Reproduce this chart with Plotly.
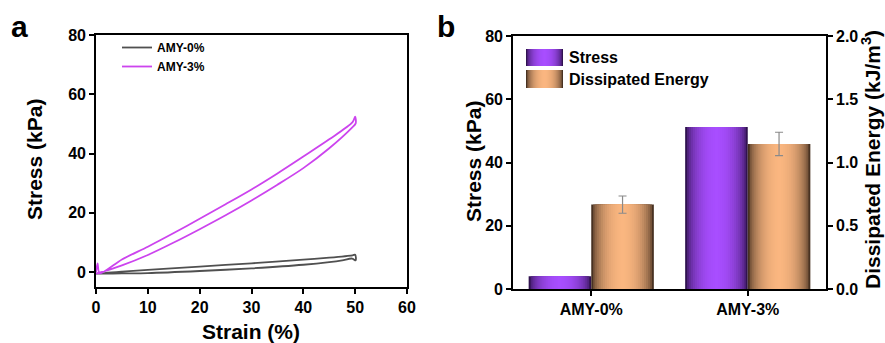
import plotly.graph_objects as go

W, H = 885, 343

# ---------------- Data ----------------
# Panel a: loading-unloading cycles (strain %, stress kPa)
strain_amy0 = [0, 5, 10, 20, 30, 40, 45, 49.5, 50, 50.1, 49.4, 47.5, 45, 40, 30, 20, 10, 5, 1, 0]
stress_amy0 = [-0.5, 0.2, 0.8, 1.9, 3.0, 4.2, 4.9, 5.7, 5.9, 4.0, 4.6, 4.0, 3.4, 2.5, 1.3, 0.4, -0.3, -0.4, -0.5, -0.5]

strain_amy3 = [0, 0.3, 0.7, 5, 10, 15, 20, 25, 30, 35, 40, 45, 49.5, 50, 50.1, 49.3, 45, 40, 35, 30, 25, 20, 15, 10, 5, 1, 0]
stress_amy3 = [0, 3.0, -0.4, 4.3, 8.6, 13.2, 18.0, 22.9, 27.9, 33.3, 39.0, 44.8, 50.6, 52.5, 50.2, 48.6, 41.8, 35.1, 29.5, 24.2, 19.2, 14.5, 10.0, 5.8, 2.3, 0.0, -0.5]

# Panel b: bar chart
categories = ["AMY-0%", "AMY-3%"]
stress_vals = [4.0, 51.2]          # kPa
energy_vals = [0.667, 1.147]       # kJ/m^3
energy_err = [0.068, 0.092]

# --------------- Styling helpers ---------------
FONT = "Liberation Sans, Arial, sans-serif"
N_LAYERS = 16
BAR_W = 0.4

def mix(c1, c2, f):
    return "rgb(%d,%d,%d)" % tuple(round(a + (b - a) * f) for a, b in zip(c1, c2))

PURPLE_DARK, PURPLE_LIGHT = (48, 18, 80), (168, 78, 255)
ORANGE_DARK, ORANGE_LIGHT = (72, 50, 34), (250, 182, 128)

def shade(k):
    t = 1 - k / N_LAYERS
    return max(0.0, 1 - t * t) ** 0.6

fig = go.Figure()

# Panel a lines
fig.add_trace(go.Scatter(x=strain_amy0, y=stress_amy0, mode="lines", name="AMY-0%",
                         line=dict(color="#505050", width=1.8, shape="spline", smoothing=0.8),
                         xaxis="x", yaxis="y", legend="legend"))
fig.add_trace(go.Scatter(x=strain_amy3, y=stress_amy3, mode="lines", name="AMY-3%",
                         line=dict(color="#CC44EE", width=1.8, shape="spline", smoothing=0.8),
                         xaxis="x", yaxis="y", legend="legend"))

# Panel b bars with cylinder-like gradient built from nested bar layers
for k in range(N_LAYERS):
    f = 1 - k / N_LAYERS
    w = BAR_W * f
    s = shade(k)
    last = k == N_LAYERS - 1
    fig.add_trace(go.Bar(x=categories, y=stress_vals, width=w, offset=-BAR_W + (BAR_W - w) / 2,
                         marker=dict(color=mix(PURPLE_DARK, PURPLE_LIGHT, s), line=dict(width=0)),
                         xaxis="x2", yaxis="y3", showlegend=False, name="Stress"))
    fig.add_trace(go.Bar(x=categories, y=energy_vals, width=w, offset=(BAR_W - w) / 2,
                         marker=dict(color=mix(ORANGE_DARK, ORANGE_LIGHT, s), line=dict(width=0)),
                         error_y=dict(type="data", array=energy_err, visible=last,
                                      color="#8a8a8a", thickness=1.2, width=4),
                         xaxis="x2", yaxis="y4", showlegend=False, name="Dissipated Energy"))

tickfont = dict(family=FONT, size=16, color="black", weight="bold")
axis_common = dict(showline=True, linecolor="black", linewidth=1.6, ticks="outside",
                   ticklen=5, tickwidth=1.6, tickcolor="black", showgrid=False,
                   zeroline=False, tickfont=tickfont, automargin=False)

fig.update_layout(
    width=W, height=H, margin=dict(l=0, r=0, t=0, b=0, autoexpand=False),
    paper_bgcolor="white", plot_bgcolor="white",
    barmode="overlay", showlegend=True,
    xaxis=dict(domain=[96 / W, 407 / W], range=[0, 60], dtick=10, mirror=True,
               anchor="y", **axis_common),
    yaxis=dict(domain=[1 - 287 / H, 1 - 35 / H], range=[-5, 80], tickvals=[0, 20, 40, 60, 80],
               mirror=True, anchor="x", **axis_common),
    xaxis2=dict(domain=[513 / W, 826 / W], range=[-0.5, 1.5], type="category", mirror=True,
                anchor="y3", **axis_common),
    yaxis3=dict(domain=[1 - 289 / H, 1 - 36 / H], range=[0, 80], tickvals=[0, 20, 40, 60, 80],
                anchor="x2", **axis_common),
    yaxis4=dict(range=[0, 2], tickvals=[0, 0.5, 1.0, 1.5, 2.0], tickformat=".1f",
                overlaying="y3", side="right", anchor="x2", **axis_common),
    legend=dict(x=117 / W, y=1 - 33 / H, xanchor="left", yanchor="top",
                bgcolor="rgba(0,0,0,0)", font=dict(family=FONT, size=12, color="black", weight="bold"),
                itemwidth=30, tracegroupgap=0),
)

# Custom legend for panel b (large gradient swatches)
shapes = []
sw_x0, sw_x1 = 526 / W, 563 / W
rows = [(49, 66, PURPLE_DARK, PURPLE_LIGHT, "Stress", 58),
        (70, 88, ORANGE_DARK, ORANGE_LIGHT, "Dissipated Energy", 79)]
annotations = []
for top, bot, dark, light, label, yc in rows:
    for k in range(N_LAYERS):
        f = 1 - k / N_LAYERS
        cx = (sw_x0 + sw_x1) / 2
        half = (sw_x1 - sw_x0) / 2 * f
        shapes.append(dict(type="rect", xref="paper", yref="paper",
                           x0=cx - half, x1=cx + half, y0=1 - bot / H, y1=1 - top / H,
                           fillcolor=mix(dark, light, shade(k)), line=dict(width=0)))
    annotations.append(dict(text=label, x=567 / W, y=1 - yc / H, xref="paper", yref="paper",
                            xanchor="left", yanchor="middle", showarrow=False,
                            font=dict(family=FONT, size=16, color="black", weight="bold")))

title_font = dict(family=FONT, size=21, color="black", weight="bold")
annotations += [
    dict(text="Stress (kPa)", x=34 / W, y=1 - 160 / H, textangle=-90, font=title_font),
    dict(text="Strain (%)", x=251 / W, y=1 - 331 / H, font=title_font),
    dict(text="Stress (kPa)", x=474 / W, y=1 - 162 / H, textangle=-90, font=title_font),
    dict(text="Dissipated Energy (kJ/m<sup>3</sup>)", x=871 / W, y=1 - 160 / H, textangle=-90, font=title_font),
    dict(text="a", x=19 / W, y=1 - 26 / H, font=dict(family=FONT, size=30, color="black", weight="bold")),
    dict(text="b", x=446 / W, y=1 - 26 / H, font=dict(family=FONT, size=30, color="black", weight="bold")),
]
for a in annotations[2:]:
    a.update(xref="paper", yref="paper", xanchor="center", yanchor="middle", showarrow=False)

fig.update_layout(shapes=shapes, annotations=annotations)

fig.write_html("out.html", config={"displayModeBar": False},
               post_script="document.body.style.margin='0';document.body.style.overflow='hidden';")
